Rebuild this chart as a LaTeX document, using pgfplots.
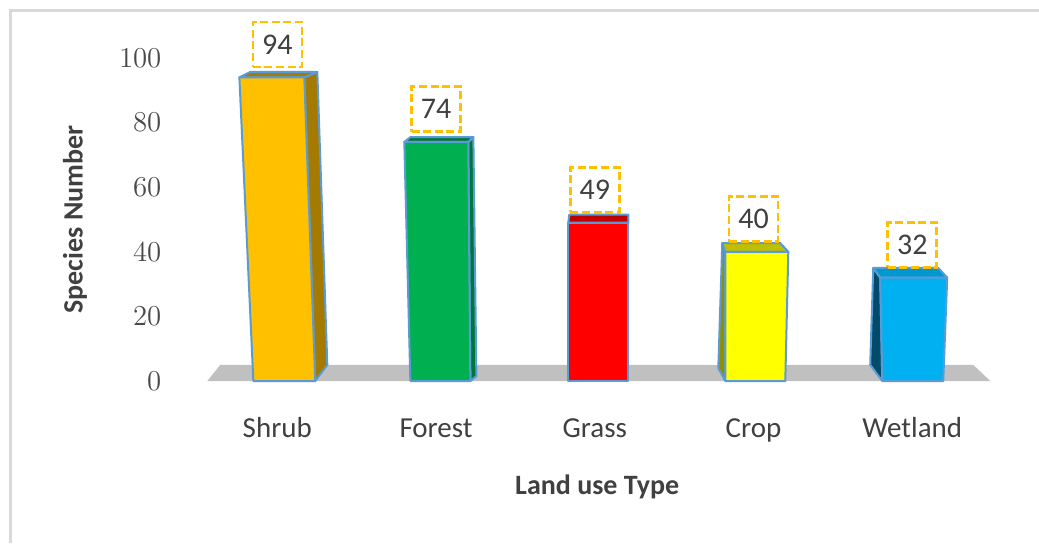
\documentclass[border=0pt]{standalone}
\usepackage{pgfplots}
\pgfplotsset{compat=1.18}
\usepackage{fontspec}
\setmainfont{Carlito}
\definecolor{edge}{HTML}{5B9BD5}
\definecolor{labgray}{HTML}{404040}
\definecolor{tickgray}{HTML}{4A4A4A}
\definecolor{boxor}{HTML}{FFC000}
\definecolor{floorc}{HTML}{C0C0C0}
\definecolor{bordergray}{HTML}{D9D9D9}
\definecolor{shrubF}{HTML}{FFC000}
\definecolor{shrubS}{HTML}{A47B00}
\definecolor{forestF}{HTML}{00B050}
\definecolor{forestS}{HTML}{00763A}
\definecolor{grassF}{HTML}{FF0000}
\definecolor{grassT}{HTML}{C00000}
\definecolor{cropF}{HTML}{FFFF00}
\definecolor{cropS}{HTML}{8F8F00}
\definecolor{cropT}{HTML}{BFBF00}
\definecolor{wetF}{HTML}{00B0F0}
\definecolor{wetS}{HTML}{004B6B}
\definecolor{wetT}{HTML}{0098D0}
\begin{document}
\begin{tikzpicture}
\useasboundingbox (0,0) rectangle (519.5pt,271.5pt);
\fill[white] (0,0) rectangle (519.5pt,271.5pt);
\draw[draw=bordergray, line width=1.5pt] (5pt,0pt) -- (5pt,266.5pt) -- (519.5pt,266.5pt);
\begin{axis}[
  at={(95pt,81pt)}, anchor=south west,
  scale only axis, width=404.8pt, height=161.5pt,
  xmin=-0.55, xmax=4.55, ymin=0, ymax=100,
  clip=false,
  axis line style={draw=none},
  tick style={draw=none},
  xtick={0,1,2,3,4},
  xticklabels={Shrub,Forest,Grass,Crop,Wetland},
  xticklabel style={anchor=base, yshift=-28pt, font=\fontsize{14.5}{17}\selectfont, text=labgray},
  ytick={0,20,40,60,80,100},
  yticklabel style={anchor=east, xshift=-10.8pt, font=\fontsize{14}{16}\selectfont, text=tickgray},
  yticklabel={\pgfmathsetmacro{\ysh}{(100-\tick)*0.09}$\pgfmathprintnumber{\tick}$\hspace{-\ysh pt}},
  xlabel={\textbf{Land use Type}},
  xlabel style={at={(axis description cs:0.503,-0.328)}, anchor=center, font=\fontsize{14}{17}\selectfont, text=labgray},
  ylabel={\textbf{Species Number}},
  ylabel style={at={(axis description cs:-0.142,0.5)}, anchor=center, font=\fontsize{14}{17}\selectfont, text=labgray},
]
% floor
\addplot[fill=floorc, draw=none] coordinates {(-0.441,0) (4.491,0) (4.384,5) (-0.359,5)} -- cycle;
% Shrub
\addplot[fill=shrubS, draw=edge, line width=1pt, line join=round] coordinates {(0.170,94) (0.252,95.7) (0.315,5) (0.239,0)} -- cycle;
\addplot[fill=shrubS, draw=edge, line width=1pt, line join=round] coordinates {(-0.239,94) (-0.170,95.7) (0.252,95.7) (0.170,94)} -- cycle;
\addplot[fill=shrubF, draw=edge, line width=1pt, line join=round] coordinates {(-0.239,94) (0.170,94) (0.239,0) (-0.151,0)} -- cycle;
% Forest
\addplot[fill=forestS, draw=edge, line width=1pt, line join=round] coordinates {(1.203,74) (1.235,75.5) (1.254,1.5) (1.216,0)} -- cycle;
\addplot[fill=forestS, draw=edge, line width=1pt, line join=round] coordinates {(0.800,74) (0.838,75.5) (1.235,75.5) (1.203,74)} -- cycle;
\addplot[fill=forestF, draw=edge, line width=1pt, line join=round] coordinates {(0.800,74) (1.203,74) (1.216,0) (0.838,0)} -- cycle;
% Grass
\addplot[fill=grassT, draw=edge, line width=1pt, line join=round] coordinates {(1.833,49) (1.839,51.5) (2.211,51.5) (2.211,49)} -- cycle;
\addplot[fill=grassF, draw=edge, line width=1pt, line join=round] coordinates {(1.833,49) (2.211,49) (2.211,0) (1.833,0)} -- cycle;
% Crop
\addplot[fill=cropS, draw=edge, line width=1pt, line join=round] coordinates {(2.822,40) (2.803,42.7) (2.778,4) (2.822,0)} -- cycle;
\addplot[fill=cropT, draw=edge, line width=1pt, line join=round] coordinates {(2.822,40) (2.803,42.7) (3.168,42.7) (3.219,40)} -- cycle;
\addplot[fill=cropF, draw=edge, line width=1pt, line join=round] coordinates {(2.822,40) (3.219,40) (3.200,0) (2.822,0)} -- cycle;
% Wetland
\addplot[fill=wetS, draw=edge, line width=1pt, line join=round] coordinates {(3.798,32) (3.754,35) (3.735,5) (3.811,0)} -- cycle;
\addplot[fill=wetT, draw=edge, line width=1pt, line join=round] coordinates {(3.798,32) (3.754,35) (4.164,35) (4.220,32)} -- cycle;
\addplot[fill=wetF, draw=edge, line width=1pt, line join=round] coordinates {(3.798,32) (4.220,32) (4.195,0) (3.811,0)} -- cycle;
% value labels
\addplot[draw=none, nodes near coords={\pgfmathprintnumber[assume math mode=true]{\pgfplotspointmeta}}, point meta=y,
  every node near coord/.style={anchor=south, yshift=4.5pt, draw=boxor, line width=1.3pt, dash pattern=on 4pt off 1.8pt, minimum width=24.5pt, minimum height=22.5pt, inner sep=0pt, font=\fontsize{15}{18}\selectfont, text=labgray}]
  coordinates {(0,94) (1,74) (2,49) (3,40) (4,32)};
\end{axis}
\end{tikzpicture}
\end{document}
